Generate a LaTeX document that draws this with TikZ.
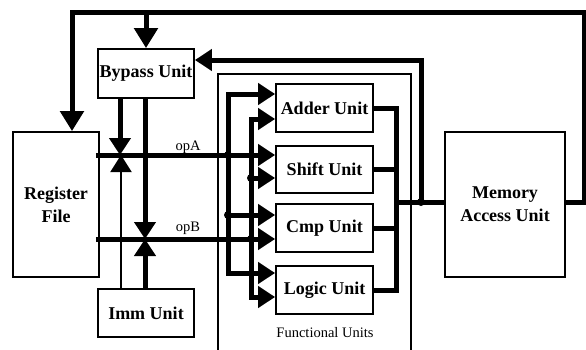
\documentclass[tikz,border=0pt]{standalone}
\usepackage{fontspec}
\setmainfont{Liberation Serif}
\usetikzlibrary{arrows.meta}
\begin{document}
\begin{tikzpicture}[x=1pt,y=-1pt,
  box/.style={draw, line width=1.8pt, inner sep=0pt, font=\fontsize{18}{23}\selectfont\bfseries, align=center},
  bus/.style={line width=5pt},
  tip/.style={-{Triangle[length=17pt,width=21pt]}},
  bigtip/.style={-{Triangle[length=20pt,width=23pt]}},
  dtip/.style={{Triangle[length=17pt,width=21pt]}-{Triangle[length=17pt,width=21pt]}},
  thinline/.style={line width=2pt},
  lbl/.style={font=\fontsize{14.5}{16}\selectfont},
  jdot/.style={circle, fill, inner sep=0pt, minimum size=8pt}]
\path[use as bounding box, clip] (0,0) rectangle (586,349);
\fill[white] (0,0) rectangle (586,349);

% functional units frame
\node[draw, line width=1.6pt, minimum width=193pt, minimum height=290pt, inner sep=0pt] (fu) at (314.5,219) {};
\node[lbl] (fulbl) at (325,333) {Functional Units};

% units
\node[box, minimum width=86pt, minimum height=145pt] (rf) at (56,204.5) {Register\\File};
\node[box, minimum width=96pt, minimum height=49pt] (bp) at (146,73.5) {Bypass Unit};
\node[box, minimum width=96pt, minimum height=48pt] (imm) at (146,313) {Imm Unit};
\node[box, minimum width=97pt, minimum height=48pt] (add) at (324.5,108) {Adder Unit};
\node[box, minimum width=97pt, minimum height=47pt] (shf) at (324.5,169.5) {Shift Unit};
\node[box, minimum width=97pt, minimum height=48pt] (cmp) at (324.5,228) {Cmp Unit};
\node[box, minimum width=97pt, minimum height=48pt] (lgc) at (324.5,290) {Logic Unit};
\node[box, minimum width=120pt, minimum height=145pt] (mem) at (505,204.5) {Memory\\Access Unit};

% helper coordinates
\coordinate (mrg) at (396,202);
\coordinate (jn) at (421,202);
\coordinate (topR) at (584,12);
\coordinate (rfo) at ([xshift=-4pt]rf.east);
\coordinate (rfin) at ([xshift=16pt]rf.north);
\coordinate (bpin) at ([yshift=13.5pt]bp.east);

% outputs of functional units
\draw[bus] (add.east) -| (mrg) |- (lgc.east);
\draw[bus] (shf.east) -- (shf.east -| mrg);
\draw[bus] (cmp.east) -- (cmp.east -| mrg);
\draw[bus] (mrg) -- (mem.west |- mrg);
\draw[bus, tip] (jn) |- (bpin);
\node[jdot] (d0) at (jn) {};

% memory feedback
\draw[bus, bigtip] (mem.east |- mrg) -| (topR) -| (rfin);
\draw[bus, bigtip] (bp.north |- 0,12) -- (bp.north);

% operand buses
\draw[bus, dtip] (add.west |- 0,94) -| (228,273) -- (lgc.west |- 0,273);
\draw[bus, dtip] (add.west |- 0,119) -| (251,297) -- (lgc.west |- 0,297);
\draw[bus, tip] (228,215) -- (cmp.west |- 0,215);
\draw[bus, tip] (251,178) -- (shf.west |- 0,178);

% opA / opB
\draw[bus, tip] (rfo |- 0,155) -- (shf.west |- 0,155);
\draw[bus, tip] (rfo |- 0,239) -- (cmp.west |- 0,239);
\node[lbl] (opA) at (188,147) {opA};
\node[lbl] (opB) at (188,228) {opB};

\node[jdot] (d1) at (228,155) {};
\node[jdot] (d2) at (228,215) {};
\node[jdot] (d3) at (251,178) {};
\node[jdot] (d4) at (251,239) {};

% bypass and immediate inputs
\draw[bus, tip] (bp.south -| 120,0) -- (120,155);
\draw[bus, tip] (bp.south -| 145,0) -- (145,239);
\draw[thinline, tip] (imm.north -| 121,0) -- (121,155);
\draw[bus, tip] (imm.north -| 145,0) -- (145,239);
\end{tikzpicture}
\end{document}
